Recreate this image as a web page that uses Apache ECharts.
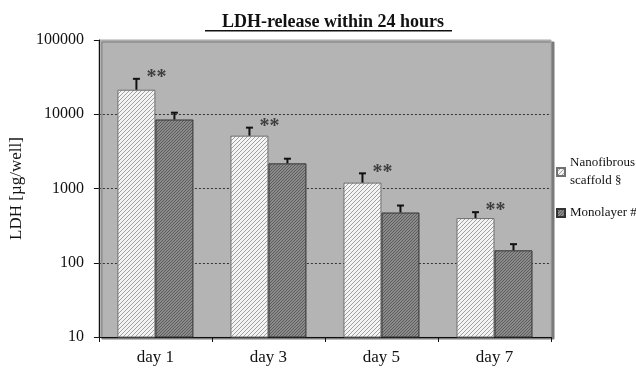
<!DOCTYPE html>
<html><head><meta charset="utf-8">
<script src="https://cdn.jsdelivr.net/npm/echarts@6/dist/echarts.min.js"></script>
<style>html,body{margin:0;padding:0;background:#fff}#c{width:636px;height:369px}</style>
</head><body><div id="c"></div>
<script>
var categories = ['day 1', 'day 3', 'day 5', 'day 7'];
var seriesNames = ['Nanofibrous\nscaffold §', 'Monolayer #'];
var nanoValues = [21400, 5150, 1200, 400];
var nanoErrTop = [30000, 6600, 1600, 480];
var monoValues = [8500, 2180, 475, 147];
var monoErrTop = [10500, 2520, 590, 178];
var starLabels = ['**', '**', '**', '**'];
var gridValues = [100, 1000, 10000];

function makePattern(kind) {
  var c = document.createElement('canvas');
  var ctx = c.getContext('2d');
  if (kind === 'hatch') {
    c.width = 4; c.height = 4;
    ctx.fillStyle = '#f4f4f4'; ctx.fillRect(0, 0, 4, 4);
    ctx.fillStyle = '#a0a0a0';
    ctx.fillRect(3, 0, 1, 1); ctx.fillRect(2, 1, 1, 1); ctx.fillRect(1, 2, 1, 1); ctx.fillRect(0, 3, 1, 1);
  } else {
    c.width = 3; c.height = 3;
    ctx.fillStyle = '#8a8a8a'; ctx.fillRect(0, 0, 3, 3);
    ctx.fillStyle = '#5e5e5e';
    ctx.fillRect(0, 0, 1, 1); ctx.fillRect(1, 2, 1, 1); ctx.fillRect(2, 1, 1, 1);
  }
  return { image: c, repeat: 'repeat' };
}

var chart = echarts.init(document.getElementById('c'));
var font = '"Liberation Serif", "Times New Roman", serif';
var barW = 38;

function errSeries(tops, bases, offset) {
  return {
    type: 'custom',
    silent: true,
    z: 5,
    data: tops.map(function (t, i) { return [i, bases[i], t]; }),
    renderItem: function (params, api) {
      var p0 = api.coord([api.value(0), api.value(1)]);
      var p1 = api.coord([api.value(0), api.value(2)]);
      var x = p0[0] + offset;
      return {
        type: 'group',
        children: [
          { type: 'line', shape: { x1: x, y1: p0[1], x2: x, y2: p1[1] }, style: { stroke: '#111', lineWidth: 2 } },
          { type: 'line', shape: { x1: x - 3.5, y1: p1[1], x2: x + 3.5, y2: p1[1] }, style: { stroke: '#111', lineWidth: 2 } }
        ]
      };
    },
    encode: { x: 0, y: [1, 2] }
  };
}

chart.setOption({
  animation: false,
  backgroundColor: '#fff',
  title: {
    text: 'LDH-release within 24 hours',
    left: 328, top: 8, textAlign: 'center',
    textStyle: { fontFamily: font, fontWeight: 'bold', fontSize: 18, color: '#111' }
  },
  graphic: [{ type: 'rect', shape: { x: 205, y: 30, width: 247, height: 1.5 }, style: { fill: '#111' } }],
  legend: {
    orient: 'vertical', left: 556, top: 154, padding: 0,
    itemWidth: 8, itemHeight: 8, itemGap: 14,
    icon: 'rect',
    textStyle: { fontFamily: font, fontSize: 13, color: '#111', lineHeight: 18 },
    data: seriesNames
  },
  grid: {
    left: 97, right: 85, top: 40, bottom: 32,
    show: true, backgroundColor: '#b4b4b4', borderColor: '#a8a8a8', borderWidth: 1,
    shadowColor: '#7a7a7a', shadowOffsetX: 3, shadowOffsetY: 2, shadowBlur: 0
  },
  xAxis: {
    type: 'category', data: categories,
    axisLine: { lineStyle: { color: '#111', width: 1 } },
    axisTick: { show: true, length: 5, lineStyle: { color: '#111' } },
    axisLabel: { fontFamily: font, fontSize: 17, color: '#111', margin: 12 }
  },
  yAxis: {
    type: 'log', logBase: 10, min: 10, max: 100000,
    name: 'LDH [µg/well]', nameLocation: 'middle', nameGap: 72,
    nameTextStyle: { fontFamily: font, fontSize: 17, color: '#111' },
    axisLine: { show: true, lineStyle: { color: '#111' } },
    axisTick: { show: true, length: 5, lineStyle: { color: '#111' } },
    axisLabel: { fontFamily: font, fontSize: 16, color: '#111', margin: 15,
      formatter: function (v) { return String(Math.round(v)); } },
    splitLine: { show: false }
  },
  series: [
    {
      name: seriesNames[0], type: 'bar', data: nanoValues, barWidth: barW, barGap: '0%', z: 3,
      itemStyle: { color: makePattern('hatch'), borderColor: '#707070', borderWidth: 1 },
      markLine: {
        silent: true, symbol: 'none', z: 1,
        label: { show: false },
        lineStyle: { color: '#333', type: [2, 2], width: 1 },
        data: gridValues.map(function (v) { return { yAxis: v }; })
      }
    },
    {
      name: seriesNames[1], type: 'bar', data: monoValues, barWidth: barW, barGap: '0%', z: 3,
      itemStyle: { color: makePattern('dots'), borderColor: '#333', borderWidth: 1 }
    },
    errSeries(nanoErrTop, nanoValues, -barW / 2),
    errSeries(monoErrTop, monoValues, barW / 2),
    {
      type: 'scatter', silent: true, symbolSize: 0, z: 6,
      data: nanoErrTop.map(function (v, i) { return [i, v]; }),
      label: {
        show: true, position: 'inside', offset: [1, -1],
        formatter: function (p) { return starLabels[p.dataIndex]; },
        fontFamily: font, fontSize: 20, fontWeight: 'bold', color: '#222'
      }
    }
  ]
});
</script></body></html>
